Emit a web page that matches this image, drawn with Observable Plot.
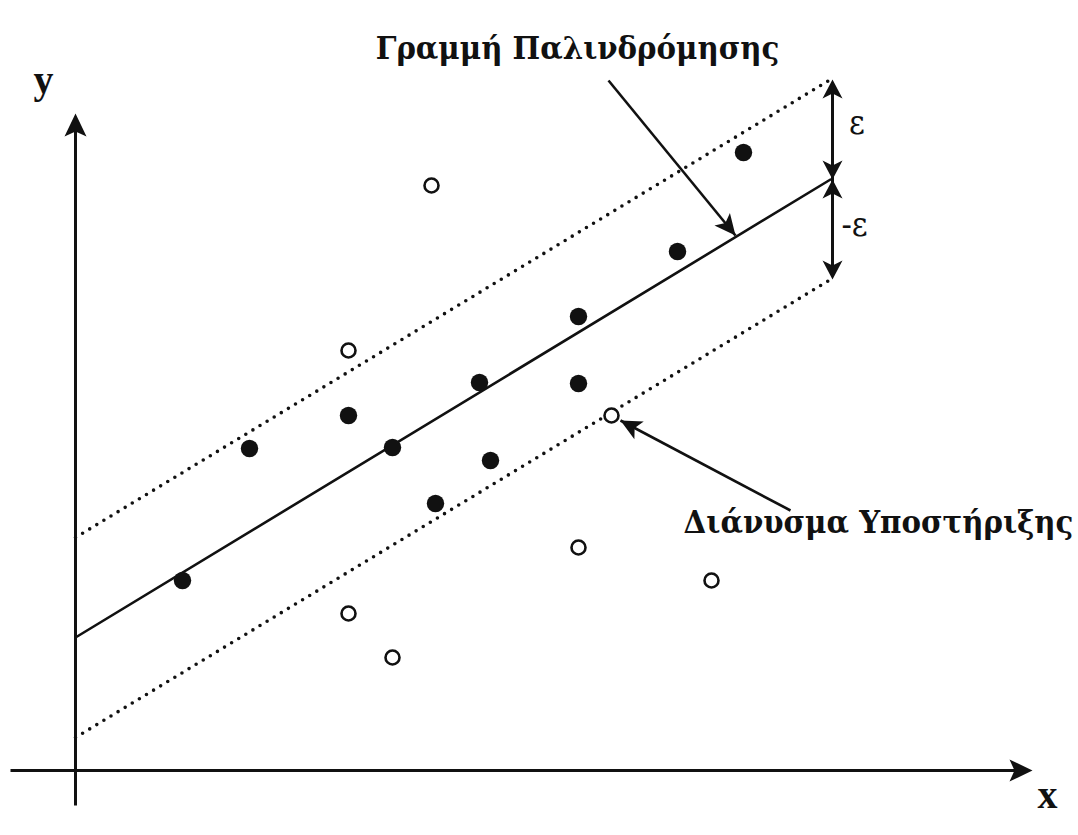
<!DOCTYPE html>
<html>
<head>
<meta charset="utf-8">
<script src="https://cdn.jsdelivr.net/npm/d3@7"></script>
<script src="https://cdn.jsdelivr.net/npm/@observablehq/plot@0.6"></script>
<style>
  html, body { margin: 0; padding: 0; background: #fff; }
</style>
</head>
<body>
<div id="chart"></div>
<script>
// Observations that fall inside the ε-tube (drawn filled)
const insideX = [1.07, 1.74, 2.73, 3.17, 3.60, 4.04, 4.15, 5.03, 5.03, 6.02, 6.68];
const insideY = [1.90, 3.22, 3.55, 3.23, 2.67, 3.88, 3.10, 4.54, 3.87, 5.19, 6.18];

// Observations outside the tube (drawn hollow)
const outsideX = [3.56, 2.73, 5.36, 5.03, 6.36, 2.73, 3.17];
const outsideY = [5.85, 4.20, 3.55, 2.23, 1.90, 1.57, 1.13];

// Regression line end points and tube half-width ε
const lineX = [0, 7.55];
const lineY = [1.33, 5.91];
const epsilon = 1.0;

// Axis extents
const xAxisFrom = -0.65, xAxisTo = 9.57;
const yAxisFrom = -0.35, yAxisTo = 6.57;

// Callout arrows: start point → tip
const calloutFromX = [5.33, 7.15];
const calloutFromY = [6.90, 2.60];
const calloutToX = [6.60, 5.45];
const calloutToY = [5.35, 3.50];

// Text labels
const labelText = ["Γραμμή Παλινδρόμησης", "Διάνυσμα Υποστήριξης"];
const labelX = [5.02, 8.03];
const labelY = [7.224, 2.484];

// ε markers next to the tube
const epsText = ["ε", "-ε"];
const epsX = [7.815, 7.79];
const epsY = [6.47, 5.45];
const epsArrowX = 7.57;

// Axis names
const axisText = ["x", "y"];
const axisTextX = [9.72, -0.32];
const axisTextY = [-0.25, 6.90];

// ---- derived tables ----
const inside = insideX.map((x, i) => ({x, y: insideY[i]}));
const outside = outsideX.map((x, i) => ({x, y: outsideY[i]}));
const regLine = lineX.map((x, i) => ({x, y: lineY[i]}));
const upper = regLine.map(d => ({x: d.x, y: d.y + epsilon}));
const lower = regLine.map(d => ({x: d.x, y: d.y - epsilon}));
const callouts = calloutFromX.map((x, i) => ({
  x1: x, y1: calloutFromY[i], x2: calloutToX[i], y2: calloutToY[i],
  angle: Math.atan2(calloutToX[i] - x, calloutToY[i] - calloutFromY[i]) * 180 / Math.PI
}));
const labels = labelText.map((t, i) => ({t, x: labelX[i], y: labelY[i]}));
const epsLabels = epsText.map((t, i) => ({t, x: epsX[i], y: epsY[i]}));
const axisLabels = axisText.map((t, i) => ({t, x: axisTextX[i], y: axisTextY[i]}));

const yTop = lineY[1] + epsilon, yMid = lineY[1], yBot = lineY[1] - epsilon;
const epsHeads = [
  {x: epsArrowX, y: yTop, angle: 0},
  {x: epsArrowX, y: yMid, angle: 180},
  {x: epsArrowX, y: yMid, angle: 0},
  {x: epsArrowX, y: yBot, angle: 180}
];
const axisHeads = [
  {x: xAxisTo, y: 0, angle: 90},
  {x: 0, y: yAxisTo, angle: 0}
];

// Barbed arrowhead symbol with its tip at the origin, pointing up
function arrowHead(len, half, notch) {
  return {
    draw(ctx) {
      ctx.moveTo(0, 0);
      ctx.lineTo(half, len);
      ctx.lineTo(0, len - notch);
      ctx.lineTo(-half, len);
      ctx.closePath();
    }
  };
}

const ink = "#111";
const serif = "'Liberation Serif', 'DejaVu Serif', serif";
const greekSerif = "'DejaVu Serif Condensed', 'DejaVu Serif', serif";

const chart = Plot.plot({
  width: 1078,
  height: 835,
  margin: 0,
  x: {domain: [-0.75, 10.03], axis: null},
  y: {domain: [-0.65, 7.70], axis: null},
  style: {background: "#fff", overflow: "visible"},
  marks: [
    // axes
    Plot.link([{x1: xAxisFrom, y1: 0, x2: xAxisTo - 0.1, y2: 0}],
      {x1: "x1", y1: "y1", x2: "x2", y2: "y2", stroke: ink, strokeWidth: 3}),
    Plot.link([{x1: 0, y1: yAxisFrom, x2: 0, y2: yAxisTo - 0.1}],
      {x1: "x1", y1: "y1", x2: "x2", y2: "y2", stroke: ink, strokeWidth: 3}),
    Plot.dot(axisHeads, {x: "x", y: "y", rotate: "angle", symbol: arrowHead(23, 11, 5), fill: ink, stroke: "none"}),

    // ε-tube boundaries
    Plot.line(upper, {x: "x", y: "y", stroke: ink, strokeWidth: 3.6, strokeDasharray: "0 8.3", strokeLinecap: "round"}),
    Plot.line(lower, {x: "x", y: "y", stroke: ink, strokeWidth: 3.6, strokeDasharray: "0 8.3", strokeLinecap: "round"}),

    // regression line
    Plot.line(regLine, {x: "x", y: "y", stroke: ink, strokeWidth: 2.6}),

    // ε double arrows
    Plot.link([{x1: epsArrowX, y1: yTop - 0.05, x2: epsArrowX, y2: yBot + 0.05}],
      {x1: "x1", y1: "y1", x2: "x2", y2: "y2", stroke: ink, strokeWidth: 3}),
    Plot.dot(epsHeads, {x: "x", y: "y", rotate: "angle", symbol: arrowHead(19, 10, 5), fill: ink, stroke: "none"}),

    // callout arrows
    Plot.link(callouts, {x1: "x1", y1: "y1", x2: "x2", y2: "y2", stroke: ink, strokeWidth: 2.6}),
    Plot.dot(callouts, {x: "x2", y: "y2", rotate: "angle", symbol: arrowHead(21, 10, 5), fill: ink, stroke: "none"}),

    // observations
    Plot.dot(outside, {x: "x", y: "y", r: 7, fill: "#fff", stroke: ink, strokeWidth: 2.6}),
    Plot.dot(inside, {x: "x", y: "y", r: 8.7, fill: ink, stroke: "none"}),

    // labels
    Plot.text(labels, {x: "x", y: "y", text: "t", fontFamily: greekSerif, fontWeight: "bold", fontSize: 32.5, fill: ink}),
    Plot.text(epsLabels, {x: "x", y: "y", text: "t", fontFamily: greekSerif, fontSize: 34, fill: ink}),
    Plot.text(axisLabels, {x: "x", y: "y", text: "t", fontFamily: serif, fontWeight: "bold", fontSize: 40, fill: ink})
  ]
});

document.getElementById("chart").appendChild(chart);
</script>
</body>
</html>
